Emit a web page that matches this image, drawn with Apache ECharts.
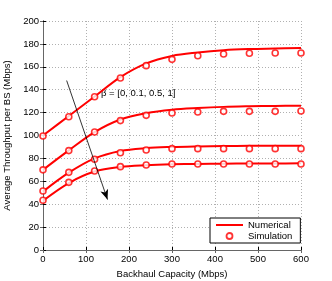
<!DOCTYPE html>
<html><head><meta charset="utf-8">
<script src="https://cdn.jsdelivr.net/npm/echarts@6/dist/echarts.min.js"></script>
<style>html,body{margin:0;padding:0;background:#fff}#c{width:332px;height:281px}</style>
</head><body><div id="c"></div>
<script>
const capacity = [0, 60, 120, 180, 240, 300, 360, 420, 480, 540, 600];
const num_b0   = [100, 117, 134, 151, 163, 169.5, 172.5, 174.5, 175.5, 176, 176.5];
const num_b01  = [70, 87, 103, 114, 119.5, 122.5, 124, 125, 125.5, 125.8, 126];
const num_b05  = [51, 67.5, 80, 86.5, 89, 90, 90.5, 90.8, 91, 91, 91];
const num_b1   = [43, 58.5, 68.5, 72.5, 74, 74.8, 75.2, 75.4, 75.5, 75.6, 75.7];
const sim_b0   = [99.6, 116.4, 133.9, 150.2, 161, 166.5, 169.7, 171.2, 171.8, 172, 172];
const sim_b01  = [70, 86.8, 103, 113, 117.6, 119.6, 120.5, 121.1, 121.1, 121.1, 121.4];
const sim_b05  = [51.5, 67.8, 79.2, 85, 87.3, 88.5, 88.5, 88.5, 88.5, 88.5, 88.5];
const sim_b1   = [43.5, 59.1, 69, 72.8, 74.2, 75.1, 75.1, 75.1, 75.1, 75.1, 75.1];
const arrowStart = [55, 148];
const arrowEnd = [150, 44];
const annotation = 'β = [0, 0.1, 0.5, 1]';

const RED = '#ff0000';
const FONT = 'Liberation Sans, Arial, sans-serif';
const pairs = ys => capacity.map((x, i) => [x, ys[i]]);
const lineS = ys => ({ name: 'Numerical', type: 'line', smooth: 0.35, data: pairs(ys), symbol: 'none', showSymbol: false,
  lineStyle: { color: RED, width: 2 }, itemStyle: { color: RED }, z: 3, silent: true });
const simS = ys => ({ name: 'Simulation', type: 'scatter', data: pairs(ys), symbol: 'circle', symbolSize: 6,
  itemStyle: { color: '#fff', borderColor: RED, borderWidth: 1.6 }, z: 4, silent: true });

const series = [lineS(num_b0), lineS(num_b01), lineS(num_b05), lineS(num_b1),
  simS(sim_b0), simS(sim_b01), simS(sim_b05), simS(sim_b1)];
series.push({ type: 'line', data: [], silent: true,
  markLine: { silent: true, symbol: ['none', 'arrow'], symbolSize: [6, 10],
    lineStyle: { color: '#000', width: 0.8, type: 'solid' }, label: { show: false },
    data: [[{ coord: arrowStart }, { coord: arrowEnd }]] } });

const gridLine = { show: true, lineStyle: { color: '#b0b0b0', type: [1, 2], width: 1 } };
const chart = echarts.init(document.getElementById('c'), null, { renderer: 'canvas' });
chart.setOption({
  animation: false,
  backgroundColor: '#fff',
  textStyle: { fontFamily: FONT },
  grid: { left: 43, right: 31, top: 21, bottom: 31, containLabel: false, outerBoundsMode: 'none' },
  xAxis: [
    { type: 'value', min: 0, max: 600, interval: 100, name: 'Backhaul Capacity (Mbps)', nameLocation: 'middle', nameGap: 15,
      nameTextStyle: { fontSize: 9.5, color: '#000', fontFamily: FONT },
      axisLine: { lineStyle: { color: '#000', width: 1 } }, axisTick: { inside: true, length: 3, lineStyle: { color: '#000' } },
      axisLabel: { fontSize: 9.5, color: '#000', margin: 4, fontFamily: FONT }, splitLine: gridLine },
    { type: 'value', min: 0, max: 600, interval: 100, position: 'top',
      axisLine: { show: true, lineStyle: { color: '#666', width: 1 } }, axisTick: { show: true, inside: true, length: 3, lineStyle: { color: '#666' } },
      axisLabel: { show: false }, splitLine: { show: false } }
  ],
  yAxis: [
    { type: 'value', min: 0, max: 200, interval: 20, name: 'Average Throughput per BS (Mbps)', nameLocation: 'middle', nameGap: 21,
      nameTextStyle: { fontSize: 9.5, color: '#000', fontFamily: FONT },
      axisLine: { show: true, lineStyle: { color: '#000', width: 1 } }, axisTick: { show: true, inside: true, length: 3, lineStyle: { color: '#000' } },
      axisLabel: { fontSize: 9.5, color: '#000', margin: 4, fontFamily: FONT }, splitLine: gridLine },
    { type: 'value', min: 0, max: 200, interval: 20, position: 'right',
      axisLine: { show: true, lineStyle: { color: '#666', width: 1 } }, axisTick: { show: true, inside: true, length: 3, lineStyle: { color: '#666' } },
      axisLabel: { show: false }, splitLine: { show: false } }
  ],
  legend: {
    data: [
      { name: 'Numerical', icon: 'path://M0,0 L27,0 L27,2 L0,2 Z', itemStyle: { color: RED } },
      { name: 'Simulation', icon: 'circle', itemStyle: { color: '#fff', borderColor: RED, borderWidth: 1.8 } }
    ],
    orient: 'vertical', left: 210, top: 218, width: 86,
    padding: [2, 8, 2, 6], itemGap: 1, itemWidth: 27, itemHeight: 6, symbolKeepAspect: true,
    backgroundColor: '#fff', borderColor: '#000', borderWidth: 1, borderRadius: 0,
    textStyle: { fontSize: 9.5, color: '#000', fontFamily: FONT, padding: [0, 0, 0, 0] }, selectedMode: false
  },
  graphic: [
    { type: 'text', left: 101, top: 88, style: { text: annotation, font: '9.5px ' + FONT, fill: '#000' } }
  ],
  series: series
});
</script></body></html>
